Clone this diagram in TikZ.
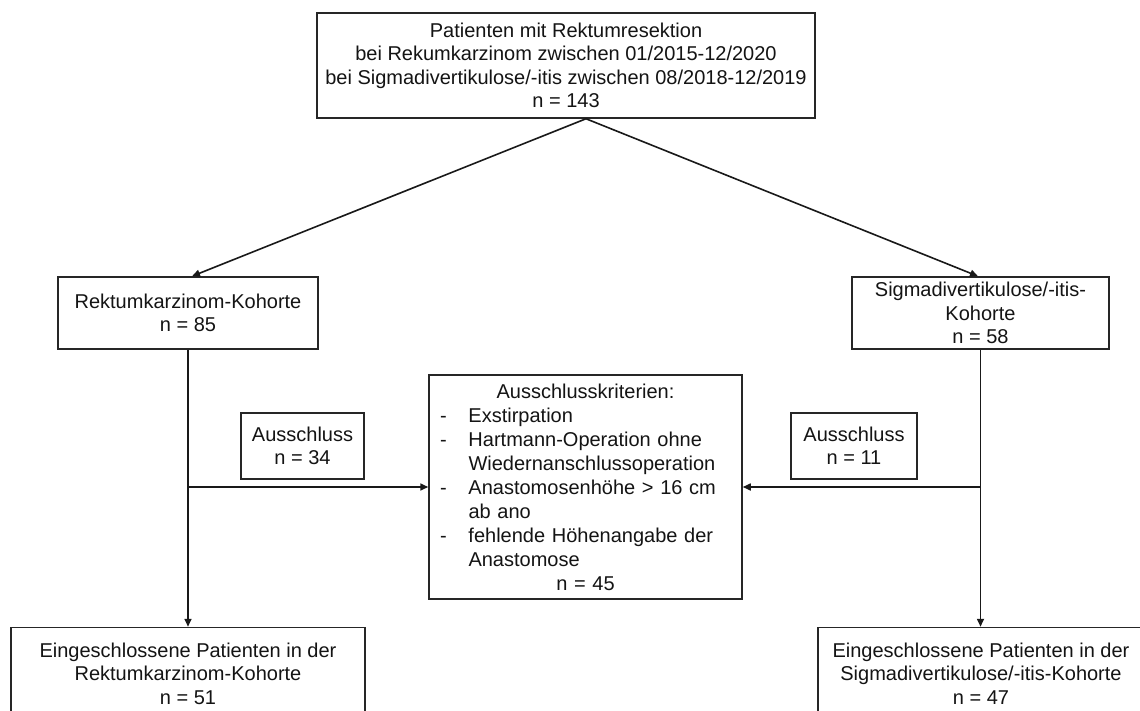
\documentclass[tikz,border=0pt]{standalone}
\usepackage{fontspec}
\setmainfont{Liberation Sans}
\usetikzlibrary{arrows.meta}
\begin{document}
\begin{tikzpicture}[x=1pt,y=-1pt,
  box/.style={draw=black!85,line width=1.5pt,align=center,inner sep=0pt,font=\fontsize{20}{23.5}\selectfont,text=black!92},
  arr/.style={line width=1.6pt,draw=black!90,-{Triangle[length=8pt,width=7pt]}},
  ln/.style={line width=1.6pt,draw=black!90}]
\useasboundingbox (0,0) rectangle (1140,711);
\clip (0,0) rectangle (1140,711);
\fill[white] (0,0) rectangle (1140,711);
\node[box,minimum width=498pt,minimum height=105pt] (top) at (566,65.5)
  {Patienten mit Rektumresektion\\bei Rekumkarzinom zwischen 01/2015-12/2020\\bei Sigmadivertikulose/-itis zwischen 08/2018-12/2019\\n = 143};
\node[box,minimum width=260pt,minimum height=72pt] (rk) at (188,313)
  {Rektumkarzinom-Kohorte\\n = 85};
\node[box,minimum width=257pt,minimum height=72pt] (sg) at (980.5,313)
  {Sigmadivertikulose/-itis-\\Kohorte\\n = 58};
\node[box,minimum width=123pt,minimum height=66pt] (exl) at (302.5,446)
  {Ausschluss\\n = 34};
\node[box,minimum width=126pt,minimum height=66pt] (exr) at (854,446)
  {Ausschluss\\n = 11};
\node[box,minimum width=313pt,minimum height=224pt,text width=291pt,align=left,font=\fontsize{20}{24}\selectfont] (crit) at (585.5,487)
  {\makebox[291pt]{Ausschlusskriterien:}\\
   \makebox[28.5pt][l]{-}Exstirpation\\
   \makebox[28.5pt][l]{-}Hartmann-Operation ohne\\
   \hspace*{28.5pt}Wiedernanschlussoperation\\
   \makebox[28.5pt][l]{-}Anastomosenhöhe > 16 cm\\
   \hspace*{28.5pt}ab ano\\
   \makebox[28.5pt][l]{-}fehlende Höhenangabe der\\
   \hspace*{28.5pt}Anastomose\\
   \makebox[291pt]{n = 45}};
\node[box,minimum width=354pt,minimum height=92pt] (inl) at (188,673.5)
  {Eingeschlossene Patienten in der\\Rektumkarzinom-Kohorte\\n = 51};
\node[box,minimum width=326pt,minimum height=92pt] (inr) at (981,673.5)
  {Eingeschlossene Patienten in der\\Sigmadivertikulose/-itis-Kohorte\\n = 47};
\coordinate (ts) at ([xshift=20pt]top.south);
\draw[arr] (ts) -- ([xshift=4pt]rk.north);
\draw[arr] (ts) -- ([xshift=-2.5pt]sg.north);
\draw[arr] (rk.south) -- (inl.north);
\draw[arr] (sg.south) -- (sg.south |- inr.north);
\draw[arr] (rk.south |- crit.west) -- (crit.west);
\draw[arr] (sg.south |- crit.east) -- (crit.east);
\end{tikzpicture}
\end{document}
